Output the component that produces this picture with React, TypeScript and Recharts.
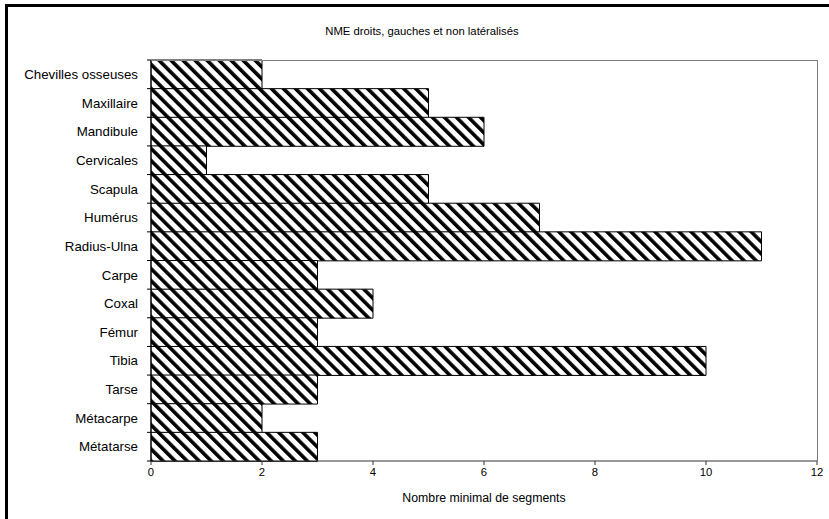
import React from 'react'
import { BarChart, Bar, XAxis, YAxis } from 'recharts'

const categories = [
  'Chevilles osseuses',
  'Maxillaire',
  'Mandibule',
  'Cervicales',
  'Scapula',
  'Humérus',
  'Radius-Ulna',
  'Carpe',
  'Coxal',
  'Fémur',
  'Tibia',
  'Tarse',
  'Métacarpe',
  'Métatarse'
]
const nme = [2, 5, 6, 1, 5, 7, 11, 3, 4, 3, 10, 3, 2, 3]
const xTicks = [0, 2, 4, 6, 8, 10, 12]

const data = categories.map((name, i) => ({ name, value: nme[i] }))

const W = 829
const H = 519
const M = { top: 60, right: 12, bottom: 0, left: 0 }
const X_AXIS_H = 58
const Y_AXIS_W = 151
const PLOT_W = W - M.left - M.right - Y_AXIS_W
const PLOT_H = H - M.top - M.bottom - X_AXIS_H
const BAND = PLOT_H / categories.length
const FONT = '"Liberation Sans", Arial, sans-serif'
const TICK_MARGIN = 5
const TICK_SIZE = 4

const CategoryTick = ({ x, y, payload, index }: any) => {
  const ax = x + TICK_MARGIN
  return (
    <g>
      <line x1={ax} x2={ax + TICK_SIZE} y1={y - BAND / 2} y2={y - BAND / 2} stroke="#000" />
      {index === categories.length - 1 && (
        <line x1={ax} x2={ax + TICK_SIZE} y1={y + BAND / 2} y2={y + BAND / 2} stroke="#000" />
      )}
      <text x={x - TICK_SIZE} y={y} dy={4.7} textAnchor="end" fontSize={13.3} fill="#000" fontFamily={FONT}>
        {payload.value}
      </text>
    </g>
  )
}

export default function App() {
  return (
    <div style={{ position: 'absolute', left: 0, top: 0, width: W, height: H, background: '#fff', overflow: 'hidden' }}>
      <div
        style={{
          position: 'absolute',
          left: 5,
          top: 4,
          width: W + 40,
          height: H + 40,
          borderLeft: '3px solid #000',
          borderTop: '3px solid #000'
        }}
      />
      <div
        style={{
          position: 'absolute',
          left: 0,
          top: 25,
          width: 844,
          textAlign: 'center',
          fontFamily: FONT,
          fontSize: 11.3,
          lineHeight: '13px',
          color: '#000'
        }}
      >
        NME droits, gauches et non latéralisés
      </div>
      <div style={{ position: 'absolute', left: 0, top: 0 }}>
        <BarChart width={W} height={H} data={data} layout="vertical" margin={M} barCategoryGap={0}>
          <defs>
            <pattern id="hatch" patternUnits="userSpaceOnUse" width={8.5} height={8.5} patternTransform="rotate(-45)">
              <rect width={8.5} height={8.5} fill="#fff" />
              <rect width={3.6} height={8.5} fill="#000" />
            </pattern>
          </defs>
          <XAxis
            type="number"
            domain={[0, 12]}
            ticks={xTicks}
            height={X_AXIS_H}
            stroke="#333"
            tickSize={4}
            tickMargin={3}
            tick={{ fontSize: 11.3, fill: '#000', fontFamily: FONT }}
            label={{
              value: 'Nombre minimal de segments',
              position: 'insideBottom',
              offset: 17,
              fontSize: 12.3,
              fill: '#000',
              fontFamily: FONT
            }}
          />
          <YAxis
            type="category"
            dataKey="name"
            width={Y_AXIS_W}
            interval={0}
            tickLine={false}
            tickSize={TICK_SIZE}
            tickMargin={TICK_MARGIN}
            stroke="#000"
            tick={<CategoryTick />}
          />
          <Bar dataKey="value" fill="url(#hatch)" stroke="#000" strokeWidth={1} isAnimationActive={false} />
        </BarChart>
      </div>
      {/* cadre gris de la zone de tracé (haut et droite) */}
      <div
        style={{
          position: 'absolute',
          left: M.left + Y_AXIS_W,
          top: M.top,
          width: PLOT_W + 1,
          height: PLOT_H,
          boxSizing: 'border-box',
          borderTop: '1px solid #808080',
          borderRight: '1px solid #808080',
          pointerEvents: 'none'
        }}
      />
    </div>
  )
}
